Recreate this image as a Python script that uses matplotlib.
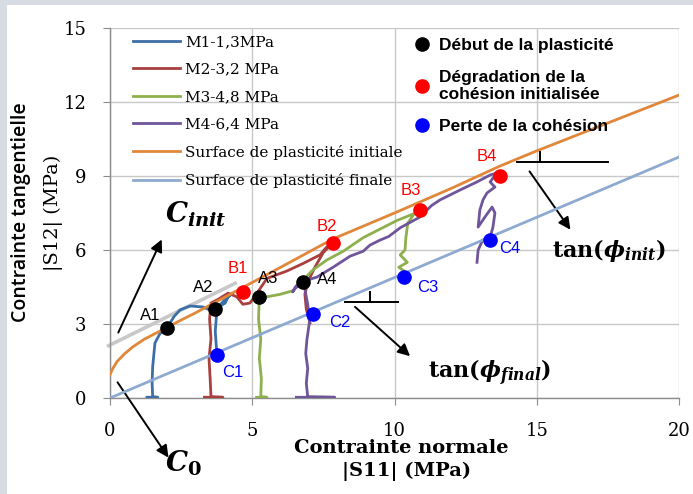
import numpy as np
import matplotlib
matplotlib.use("Agg")
import matplotlib.pyplot as plt
from matplotlib.lines import Line2D
from matplotlib.patches import Rectangle

# =============================================================================
# * Data
# =============================================================================

# M1 - 1,3 MPa
m1_x = [1.30, 1.68, 1.50, 1.48, 1.50, 1.58, 1.75, 2.00, 2.25, 2.46, 2.81, 3.27, 3.55, 3.69,
        4.05, 4.15, 4.30, 4.05, 3.85, 3.74, 3.70, 3.73, 3.76]
m1_y = [0.03, 0.03, 0.05, 0.60, 1.27, 2.23, 2.60, 2.84, 3.30, 3.57, 3.73, 3.69, 3.55, 3.60,
        3.85, 4.10, 4.25, 4.00, 3.75, 3.30, 2.70, 2.20, 1.74]

# M2 - 3,2 MPa
m2_x = [3.32, 3.97, 3.55, 3.52, 3.48, 3.55, 3.50, 3.55, 3.80, 4.15, 4.46, 4.67, 4.92, 5.17,
        5.52, 6.22, 6.78, 7.38, 7.60, 7.84, 7.50, 7.20, 6.95, 6.85, 6.90, 7.03]
m2_y = [0.03, 0.03, 0.05, 0.80, 1.60, 2.40, 3.20, 3.85, 4.00, 4.25, 4.10, 3.80, 3.85, 4.26,
        4.85, 5.15, 5.45, 5.80, 6.10, 6.30, 5.90, 5.30, 4.70, 4.20, 3.60, 3.04]

# M3 - 4,8 MPa
m3_x = [5.15, 5.52, 5.30, 5.32, 5.25, 5.30, 5.22, 5.24, 5.50, 5.97, 6.44, 6.80, 7.14, 7.63,
        8.20, 8.90, 10.09, 10.70, 10.47, 10.40, 10.37, 10.20, 10.45, 10.15, 10.40, 10.33]
m3_y = [0.03, 0.03, 0.05, 0.80, 1.60, 2.40, 3.20, 3.80, 4.10, 4.20, 4.35, 4.80, 5.20, 5.60,
        5.95, 6.50, 7.20, 7.48, 7.10, 6.50, 6.00, 5.80, 5.50, 5.30, 5.10, 4.90]

# M4 - 6,4 MPa
m4_x = [6.55, 7.90, 6.95, 6.90, 6.95, 6.88, 6.92, 7.02, 6.95, 6.85, 6.80, 6.50, 6.42, 6.55,
        6.85, 7.27, 7.84, 8.44, 8.90, 9.14, 9.49, 9.80, 10.20, 10.90, 11.30, 11.60, 12.30,
        12.90, 13.36, 13.60, 13.36, 13.53, 13.25, 13.11, 13.00, 12.94, 13.18, 13.43, 13.53,
        13.46, 13.36, 13.10, 12.94, 12.90]
m4_y = [0.03, 0.03, 0.05, 0.60, 1.20, 1.80, 2.35, 3.16, 3.80, 4.40, 4.70, 4.45, 4.30, 4.55,
        4.75, 4.90, 5.30, 5.75, 5.95, 6.20, 6.40, 6.55, 6.90, 7.34, 7.80, 8.03, 8.43,
        8.76, 9.04, 9.12, 8.76, 8.55, 8.31, 8.03, 7.62, 6.93, 7.34, 7.74, 7.50,
        6.93, 6.50, 6.40, 6.00, 5.50]

# surfaces
init_x = [0.0, 0.1, 0.25, 0.5, 0.8, 1.2, 1.6, 2.0, 2.5, 3.0, 3.7, 4.7, 6.0, 7.84, 10.0, 12.0,
          13.7, 15.0, 17.5, 20.0]
init_y = [0.95, 1.20, 1.48, 1.78, 2.07, 2.38, 2.62, 2.86, 3.16, 3.45, 3.88, 4.50, 5.30, 6.45,
          7.50, 8.50, 9.40, 10.02, 11.15, 12.28]
final_x = [0.0, 20.0]
final_y = [0.0, 9.77]
cinit_x = [-0.05, 4.4]
cinit_y = [2.12, 4.65]

# characteristic points
a_x = [2.00, 3.69, 5.24, 6.80]
a_y = [2.84, 3.60, 4.10, 4.70]
b_x = [4.67, 7.84, 10.90, 13.70]
b_y = [4.30, 6.30, 7.62, 9.00]
c_x = [3.76, 7.14, 10.33, 13.36]
c_y = [1.74, 3.40, 4.90, 6.40]
a_lab = ["A1", "A2", "A3", "A4"]
b_lab = ["B1", "B2", "B3", "B4"]
c_lab = ["C1", "C2", "C3", "C4"]

x_ticks = [0, 5, 10, 15, 20]
y_ticks = [0, 3, 6, 9, 12, 15]

# =============================================================================
# * Style
# =============================================================================

plt.rcParams['mathtext.fontset'] = 'custom'
plt.rcParams['mathtext.rm'] = 'DejaVu Serif:bold'
plt.rcParams['mathtext.it'] = 'DejaVu Serif:italic:bold'
plt.rcParams['mathtext.bf'] = 'DejaVu Serif:bold'

SERIF = 'DejaVu Serif'
SANS = 'Liberation Sans'

col_m1 = "#3c6ea8"
col_m2 = "#a9403e"
col_m3 = "#8db04c"
col_m4 = "#6f559a"
col_init = "#e0873a"
col_final = "#8eaad0"
col_grid = "#c8c8c8"

fig = plt.figure(figsize=(6.93, 4.94), dpi=100)
fig.patch.set_facecolor("#d6dce1")
fig.add_artist(Rectangle((7 / 693, 0), 1, (494 - 5) / 494, transform=fig.transFigure,
                         facecolor="white", edgecolor="none", zorder=0))

ax = fig.add_axes([110 / 693, 96 / 494, 569 / 693, 370 / 494])
ax.set_facecolor("none")
ax.set_xlim(0, 20)
ax.set_ylim(0, 15)
ax.set_xticks(x_ticks)
ax.set_yticks(y_ticks)
ax.grid(True, color=col_grid, linewidth=1.0)
for s in ["top", "right"]:
    ax.spines[s].set_visible(False)
for s in ["left", "bottom"]:
    ax.spines[s].set_color("#8c8c8c")
    ax.spines[s].set_linewidth(1.0)
ax.tick_params(direction="out", length=5, color="#8c8c8c", labelsize=13)
ax.tick_params(axis="x", pad=12)
ax.tick_params(axis="y", pad=12)
for lab in ax.get_xticklabels() + ax.get_yticklabels():
    lab.set_fontfamily(SERIF)

# =============================================================================
# * Curves
# =============================================================================

lw = 2.0
l1, = ax.plot(m1_x, m1_y, color=col_m1, lw=lw, zorder=3)
l2, = ax.plot(m2_x, m2_y, color=col_m2, lw=lw, zorder=3)
l3, = ax.plot(m3_x, m3_y, color=col_m3, lw=lw, zorder=3)
l4, = ax.plot(m4_x, m4_y, color=col_m4, lw=lw, zorder=3)
li, = ax.plot(init_x, init_y, color=col_init, lw=2.0, zorder=4)
lf, = ax.plot(final_x, final_y, color=col_final, lw=2.0, zorder=4)
ax.plot(cinit_x, cinit_y, color="#c8c8c8", lw=2.6, zorder=2, clip_on=False)

ms = 9.5
ax.plot(a_x, a_y, "o", color="black", ms=ms, zorder=6)
ax.plot(b_x, b_y, "o", color="red", ms=ms, zorder=6)
ax.plot(c_x, c_y, "o", color="blue", ms=ms, zorder=6)

# point labels
a_off = [(-0.59, 0.52), (-0.42, 0.90), (0.31, 0.76), (0.83, 0.12)]
b_off = [(-0.17, 0.97), (-0.21, 0.67), (-0.32, 0.81), (-0.45, 0.81)]
c_off = [(0.56, -0.69), (0.94, -0.32), (0.85, -0.40), (0.70, -0.32)]
for xs, ys, labs, offs, col in [(a_x, a_y, a_lab, a_off, "black"),
                                (b_x, b_y, b_lab, b_off, "red"),
                                (c_x, c_y, c_lab, c_off, "blue")]:
    for x, y, t, (dx, dy) in zip(xs, ys, labs, offs):
        ax.text(x + dx, y + dy, t, color=col, fontsize=12, family=SANS,
                ha="center", va="center", zorder=7)

# =============================================================================
# * Annotations
# =============================================================================

arrow = dict(arrowstyle="-|>", color="black", lw=1.4, mutation_scale=18)
ax.annotate("", xy=(1.86, 6.53), xytext=(0.25, 2.55), arrowprops=arrow, annotation_clip=False)
ax.annotate("", xy=(2.11, -2.51), xytext=(0.21, 0.73), arrowprops=arrow, annotation_clip=False)
ax.annotate("", xy=(10.62, 1.62), xytext=(8.54, 3.77), arrowprops=arrow, annotation_clip=False)
ax.annotate("", xy=(16.24, 6.73), xytext=(14.69, 9.28), arrowprops=arrow, annotation_clip=False)

# slope marks
ax.plot([8.26, 10.12], [3.89, 3.89], color="black", lw=1.4, zorder=5)
ax.plot([9.14, 9.14], [3.89, 4.30], color="black", lw=1.4, zorder=5)
ax.plot([14.31, 17.50], [9.57, 9.57], color="black", lw=1.4, zorder=5)
ax.plot([15.11, 15.11], [9.57, 9.97], color="black", lw=1.4, zorder=5)

ax.text(3.02, 7.45, r"$C_{init}$", fontsize=20, ha="center", va="center")
ax.text(2.57, -2.65, r"$C_0$", fontsize=20, ha="center", va="center")
ax.text(13.36, 1.0, r"$\mathrm{tan}(\phi_{final})$", fontsize=16, ha="center", va="center")
ax.text(17.54, 6.0, r"$\mathrm{tan}(\phi_{init})$", fontsize=16, ha="center", va="center")

# =============================================================================
# * Legends
# =============================================================================

leg1 = ax.legend([l1, l2, l3, l4, li, lf],
                 ["M1-1,3MPa", "M2-3,2 MPa", "M3-4,8 MPa", "M4-6,4 MPa",
                  "Surface de plasticité initiale", "Surface de plasticité finale"],
                 loc="upper left", bbox_to_anchor=(133 / 693, 1 - 35 / 494),
                 bbox_transform=fig.transFigure, frameon=False,
                 prop={"family": SERIF, "size": 11}, handlelength=3.07,
                 handletextpad=0.33, labelspacing=0.88, borderpad=0, borderaxespad=0)
ax.add_artist(leg1)

mk = dict(marker="o", linestyle="none", markersize=9.5)
ax.legend([Line2D([], [], color="black", **mk), Line2D([], [], color="red", **mk),
           Line2D([], [], color="blue", **mk)],
          ["Début de la plasticité", "Dégradation de la\ncohésion initialisée",
           "Perte de la cohésion"],
          loc="upper left", bbox_to_anchor=(413 / 693, 1 - 38 / 494),
          bbox_transform=fig.transFigure, frameon=False,
          prop={"family": SANS, "size": 12.5, "weight": "bold"},
          handlelength=1.0, handletextpad=0.5, labelspacing=0.95, borderpad=0,
          borderaxespad=0)

# axis titles
fig.text(21 / 693, 1 - 212 / 494, "Contrainte tangentielle", rotation=90, ha="center",
         va="center", family="Open Sans", fontsize=14, weight="semibold")
fig.text(53 / 693, 1 - 213 / 494, "|S12| (MPa)", rotation=90, ha="center", va="center",
         family=SERIF, fontsize=14)
fig.text(401 / 693, 1 - 448 / 494, "Contrainte normale", ha="center", va="center",
         family=SERIF, fontsize=14, weight="bold")
fig.text(407 / 693, 1 - 471 / 494, "|S11| (MPa)", ha="center", va="center",
         family=SERIF, fontsize=14, weight="bold")

fig.savefig("out.png", dpi=100)
